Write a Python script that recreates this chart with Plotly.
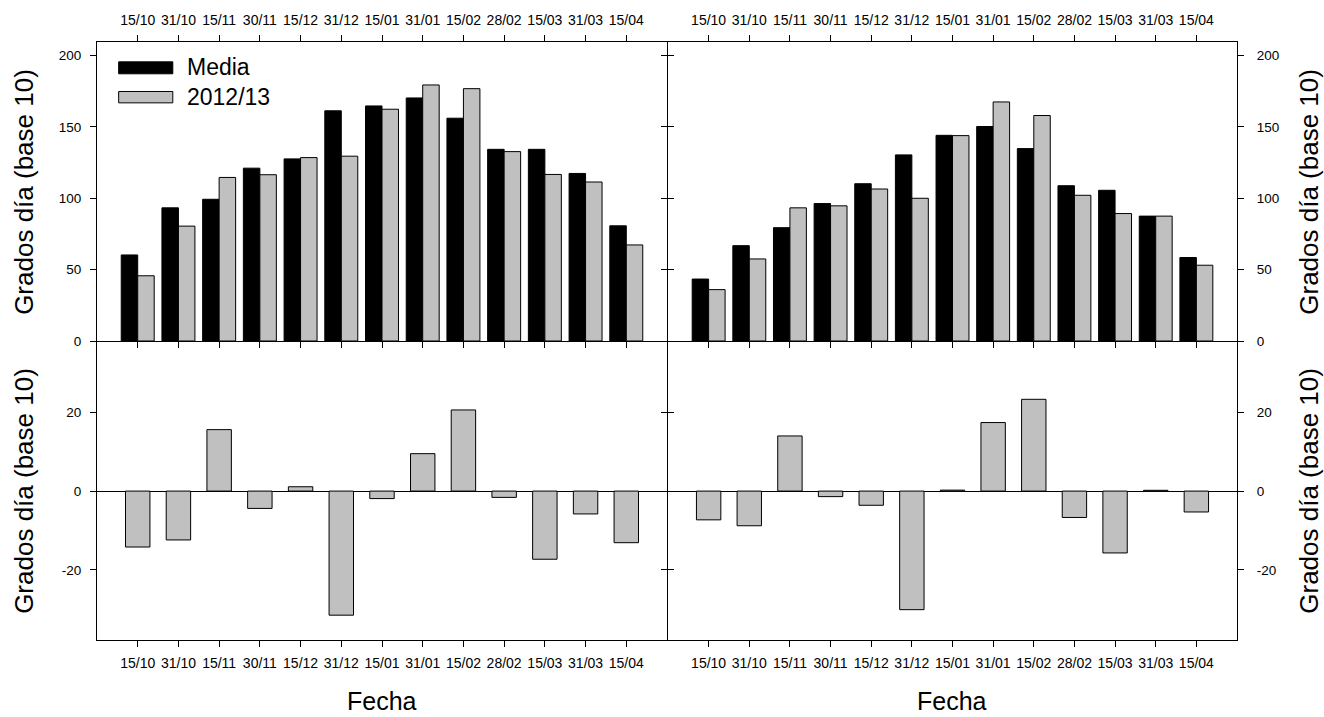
import plotly.graph_objects as go

cats = ["15/10", "31/10", "15/11", "30/11", "15/12", "31/12", "15/01",
        "31/01", "15/02", "28/02", "15/03", "31/03", "15/04"]

media_left = [60.3, 93.3, 99.3, 121.1, 127.6, 161.3, 164.7, 170.3, 156.1, 134.3, 134.3, 117.4, 80.7]
season_left = [45.7, 80.5, 114.6, 116.5, 128.5, 129.5, 162.4, 179.4, 176.8, 132.7, 116.7, 111.4, 67.3]
diff_left = [-14.2, -12.4, 15.6, -4.4, 1.1, -31.5, -1.9, 9.5, 20.6, -1.6, -17.3, -5.8, -13.1]

media_right = [43.4, 66.8, 79.4, 96.3, 110.2, 130.4, 144.1, 150.3, 134.8, 108.8, 105.6, 87.5, 58.5]
season_right = [36.0, 57.5, 93.3, 94.7, 106.5, 100.0, 143.9, 167.5, 158.0, 102.1, 89.3, 87.5, 53.1]
diff_right = [-7.3, -8.8, 14.0, -1.4, -3.6, -30.1, 0.25, 17.4, 23.3, -6.7, -15.7, 0.2, -5.3]

top_ticks = [0, 50, 100, 150, 200]
bot_ticks = [-20, 0, 20]
bot_ticktext = ["-20", "0", "20"]

series_names = ["Media", "2012/13"]
ytitle = "Grados día (base 10)"
xtitle = "Fecha"

BLACK = "#000000"
GREY = "#c0c0c0"
FONT = "Liberation Sans, Arial, sans-serif"

fig = go.Figure()

# top panels
for xa, ya, med, sea in [("x", "y", media_left, season_left),
                         ("x2", "y2", media_right, season_right)]:
    fig.add_trace(go.Bar(x=cats, y=med, xaxis=xa, yaxis=ya, name=series_names[0],
                         marker=dict(color=BLACK, line=dict(color=BLACK, width=1)),
                         showlegend=False))
    fig.add_trace(go.Bar(x=cats, y=sea, xaxis=xa, yaxis=ya, name=series_names[1],
                         marker=dict(color=GREY, line=dict(color=BLACK, width=1)),
                         showlegend=False))

# bottom panels
for xa, ya, d in [("x3", "y3", diff_left), ("x4", "y4", diff_right)]:
    fig.add_trace(go.Bar(x=cats, y=d, xaxis=xa, yaxis=ya, width=0.6,
                         marker=dict(color=GREY, line=dict(color=BLACK, width=1)),
                         showlegend=False))

xtickfont = dict(family=FONT, size=14, color="black")
ytickfont = dict(family=FONT, size=13.5, color="black")

def xax(domain, anchor, side, mirror):
    return dict(domain=domain, anchor=anchor, side=side, type="category",
                categoryorder="array", categoryarray=cats,
                range=[-1, 13], showline=True, linecolor="black", linewidth=1,
                mirror=mirror, ticks="outside", ticklen=6, tickcolor="black",
                tickfont=xtickfont, showgrid=False, zeroline=False,
                ticklabelstandoff=4)

def yax(domain, anchor, side, rng, tv, tt, zl, standoff):
    return dict(domain=domain, anchor=anchor, side=side, range=rng,
                tickvals=tv, ticktext=tt, showline=True, linecolor="black",
                linewidth=1, mirror="ticks", ticks="outside", ticklen=6,
                tickcolor="black", tickfont=ytickfont, showgrid=False,
                zeroline=zl, zerolinecolor="black", zerolinewidth=1,
                ticklabelstandoff=standoff)

top_tt = [str(v) for v in top_ticks]
split = 0.5 + 1.0 / 1140

fig.update_layout(
    width=1324, height=717,
    margin=dict(l=97, r=87, t=37, b=77),
    paper_bgcolor="white", plot_bgcolor="white",
    barmode="group", bargap=0.19, bargroupgap=0,
    font=dict(family=FONT, color="black"),
    xaxis=xax([0, 0.5], "y", "top", "ticks"),
    xaxis2=xax([split, 1], "y2", "top", "ticks"),
    xaxis3=xax([0, 0.5], "y3", "bottom", False),
    xaxis4=xax([split, 1], "y4", "bottom", False),
    yaxis=yax([0.5, 1], "x", "left", [0, 209.5], top_ticks, top_tt, False, 6),
    yaxis2=yax([0.5, 1], "x2", "right", [0, 209.5], top_ticks, top_tt, False, 10),
    yaxis3=yax([0, 0.5], "x3", "left", [-37.8, 38.1], bot_ticks, bot_ticktext, True, 6),
    yaxis4=yax([0, 0.5], "x4", "right", [-37.8, 38.1], bot_ticks, bot_ticktext, True, 10),
)

# manual legend in top-left panel
fig.add_shape(type="rect", xref="x domain", yref="y domain",
              x0=0.038, x1=0.133, y0=0.8937, y1=0.9336,
              fillcolor=BLACK, line=dict(color=BLACK, width=1))
fig.add_shape(type="rect", xref="x domain", yref="y domain",
              x0=0.038, x1=0.133, y0=0.7965, y1=0.8345,
              fillcolor=GREY, line=dict(color=BLACK, width=1))
legfont = dict(family=FONT, size=23, color="black")
fig.add_annotation(xref="x domain", yref="y domain", x=0.155, y=0.915,
                   text=series_names[0], showarrow=False, xanchor="left",
                   yanchor="middle", font=legfont)
fig.add_annotation(xref="x domain", yref="y domain", x=0.155, y=0.815,
                   text=series_names[1], showarrow=False, xanchor="left",
                   yanchor="middle", font=legfont)

titlefont = dict(family=FONT, size=26, color="black")
for xp in [-0.0646, 1.0625]:
    for yp in [0.75, 0.25]:
        fig.add_annotation(xref="paper", yref="paper", x=xp, y=yp, text=ytitle,
                           textangle=-90, showarrow=False, xanchor="center",
                           yanchor="middle", font=titlefont)
xfont = dict(family=FONT, size=25, color="black")
for xp in [0.25, 0.75]:
    fig.add_annotation(xref="paper", yref="paper", x=xp, y=-0.1012, text=xtitle,
                       showarrow=False, xanchor="center", yanchor="middle",
                       font=xfont)

fig.write_html("out.html")
